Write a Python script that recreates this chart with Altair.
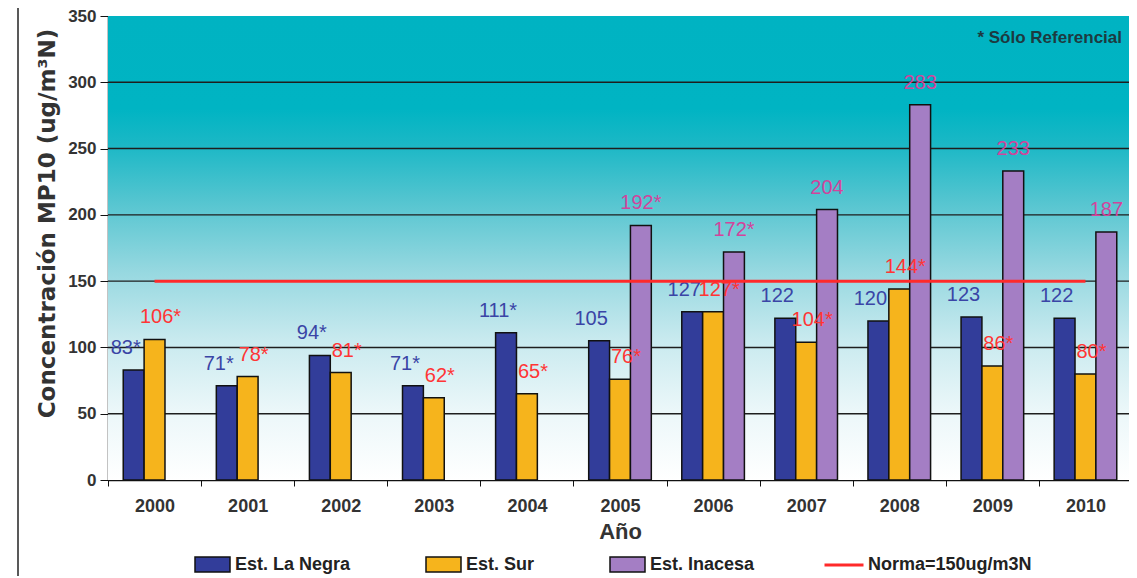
import altair as alt
import pandas as pd

years = ["2000", "2001", "2002", "2003", "2004", "2005", "2006", "2007", "2008", "2009", "2010"]
series_names = ["Est. La Negra", "Est. Sur", "Est. Inacesa"]
la_negra = [83, 71, 94, 71, 111, 105, 127, 122, 120, 123, 122]
la_negra_lbl = ["83*", "71*", "94*", "71*", "111*", "105", "127", "122", "120", "123", "122"]
sur = [106, 78, 81, 62, 65, 76, 127, 104, 144, 86, 80]
sur_lbl = ["106*", "78*", "81*", "62*", "65*", "76*", "127*", "104*", "144*", "86*", "80*"]
inacesa = [None, None, None, None, None, 192, 172, 204, 283, 233, 187]
inacesa_lbl = [None, None, None, None, None, "192*", "172*", "204", "283", "233", "187"]
norma_name = "Norma=150ug/m3N"
norma_value = 150
y_ticks = [0, 50, 100, 150, 200, 250, 300, 350]
grid_values = [50, 100, 150, 200, 250, 300]
note_text = "* Sólo Referencial"

bar_colors = ["#323d9a", "#f6b41c", "#a47ec4"]
label_colors = ["#3a45a6", "#ff3535", "#d2449c"]
label_dx = [-8, 6, 0]

rows = []
for vals, lbls, name in [(la_negra, la_negra_lbl, series_names[0]),
                         (sur, sur_lbl, series_names[1]),
                         (inacesa, inacesa_lbl, series_names[2])]:
    for yr, v, l in zip(years, vals, lbls):
        if v is not None:
            rows.append({"year": yr, "series": name, "value": v, "label": l})
df = pd.DataFrame(rows)

W, H = 1024, 464
FONT = "Liberation Sans"

yscale = alt.Scale(domain=[0, 350], nice=False, zero=True)
xscale = alt.Scale(domain=years, paddingInner=0, paddingOuter=0)
xoff = alt.XOffset("series:N", sort=series_names,
                   scale=alt.Scale(domain=series_names, paddingInner=0, paddingOuter=0.73))

bg = alt.Chart(pd.DataFrame({"a": [0]})).mark_rect(
    fill=alt.Gradient(
        gradient="linear",
        stops=[
            alt.GradientStop(offset=0, color="#ffffff"),
            alt.GradientStop(offset=0.15, color="#ebf7f9"),
            alt.GradientStop(offset=0.3, color="#c9eaef"),
            alt.GradientStop(offset=0.45, color="#96d8e0"),
            alt.GradientStop(offset=0.6, color="#55c5d0"),
            alt.GradientStop(offset=0.72, color="#1cb8c6"),
            alt.GradientStop(offset=0.8, color="#00b4c3"),
            alt.GradientStop(offset=1, color="#00b3c2"),
        ],
        x1=0, x2=0, y1=1, y2=0,
    )
).encode(x=alt.value(0), x2=alt.value(W), y=alt.value(0), y2=alt.value(H))

grid = alt.Chart(pd.DataFrame({"v": grid_values})).mark_rule(
    color="#1e1e1e", strokeWidth=1.4
).encode(y=alt.Y("v:Q", scale=yscale))

bars = alt.Chart(df).mark_bar(stroke="#111111", strokeWidth=1.5).encode(
    x=alt.X("year:N", scale=xscale, sort=years,
            axis=alt.Axis(title="Año", labelAngle=0, tickBand="extent", tickSize=6,
                          tickColor="#111", domainColor="#111", domainWidth=1.5,
                          labelFont=FONT, labelFontSize=18, labelFontWeight="bold",
                          labelColor="#333", labelPadding=11,
                          titleFont=FONT, titleFontSize=22, titleFontWeight="bold",
                          titleColor="#333", titlePadding=6)),
    xOffset=xoff,
    y=alt.Y("value:Q", scale=yscale,
            axis=alt.Axis(title="Concentración MP10 (ug/m³N)", values=y_ticks, grid=False,
                          tickSize=8, tickColor="#111", domainColor="#111", domainWidth=1.5,
                          labelFont=FONT, labelFontSize=17, labelFontWeight="bold",
                          labelColor="#333", labelPadding=4,
                          titleFont="DejaVu Sans", titleFontSize=23, titleFontWeight="bold",
                          titleColor="#333", titlePadding=8, titleY=207)),
    fill=alt.Fill("series:N", sort=series_names,
                  scale=alt.Scale(domain=series_names, range=bar_colors),
                  legend=alt.Legend(orient="none", legendX=86, legendY=530,
                                    direction="horizontal", title=None,
                                    symbolType="M-1,-0.43H1V0.43H-1Z", symbolSize=1225,
                                    symbolStrokeColor="#111", symbolStrokeWidth=1.5,
                                    labelFont=FONT, labelFontSize=18, labelFontWeight="bold",
                                    labelColor="#222", labelOffset=4, labelLimit=0,
                                    columnPadding=72, gridAlign="none")),
)


def label_layer(name, dx):
    return alt.Chart(df).transform_filter(alt.datum.series == name).mark_text(
        baseline="bottom", dy=-12, dx=dx, font=FONT, fontSize=20
    ).encode(
        x=alt.X("year:N", scale=xscale, sort=years),
        xOffset=xoff,
        y=alt.Y("value:Q", scale=yscale),
        text="label:N",
        color=alt.Color("series:N", sort=series_names,
                        scale=alt.Scale(domain=series_names, range=label_colors),
                        legend=None),
    )


texts = [label_layer(n, d) for n, d in zip(series_names, label_dx)]

rule = alt.Chart(pd.DataFrame({"x1": [years[0]], "x2": [years[-1]],
                               "v": [norma_value], "name": [norma_name]})).mark_rule(
    strokeWidth=3
).encode(
    x=alt.X("x1:N", scale=xscale, sort=years),
    x2="x2:N",
    y=alt.Y("v:Q", scale=yscale),
    stroke=alt.Stroke("name:N", scale=alt.Scale(domain=[norma_name], range=["#ff2a2a"]),
                      legend=alt.Legend(orient="none", legendX=715, legendY=528,
                                        title=None, symbolType="stroke", symbolSize=1521,
                                        symbolStrokeWidth=3,
                                        labelFont=FONT, labelFontSize=18,
                                        labelFontWeight="bold", labelColor="#222",
                                        labelOffset=3, labelLimit=0)),
)

note = alt.Chart(pd.DataFrame({"t": [note_text]})).mark_text(
    align="right", baseline="middle", font=FONT, fontSize=17, fontWeight="bold",
    color="#1d3a40"
).encode(x=alt.value(1014), y=alt.value(22), text="t:N")

border = alt.Chart(pd.DataFrame({"a": [0]})).mark_rule(color="#222", strokeWidth=1.5).encode(
    x=alt.value(-90), y=alt.value(-9), y2=alt.value(562)
)

chart = alt.layer(bg, grid, bars, *texts, rule, note, border).properties(
    width=W, height=H,
    autosize=alt.AutoSizeParams(type="none"),
    padding={"left": 100, "top": 8, "right": -3, "bottom": 96},
).configure_view(stroke=None)

chart.save("out.html", embed_options={"renderer": "svg", "actions": False})
